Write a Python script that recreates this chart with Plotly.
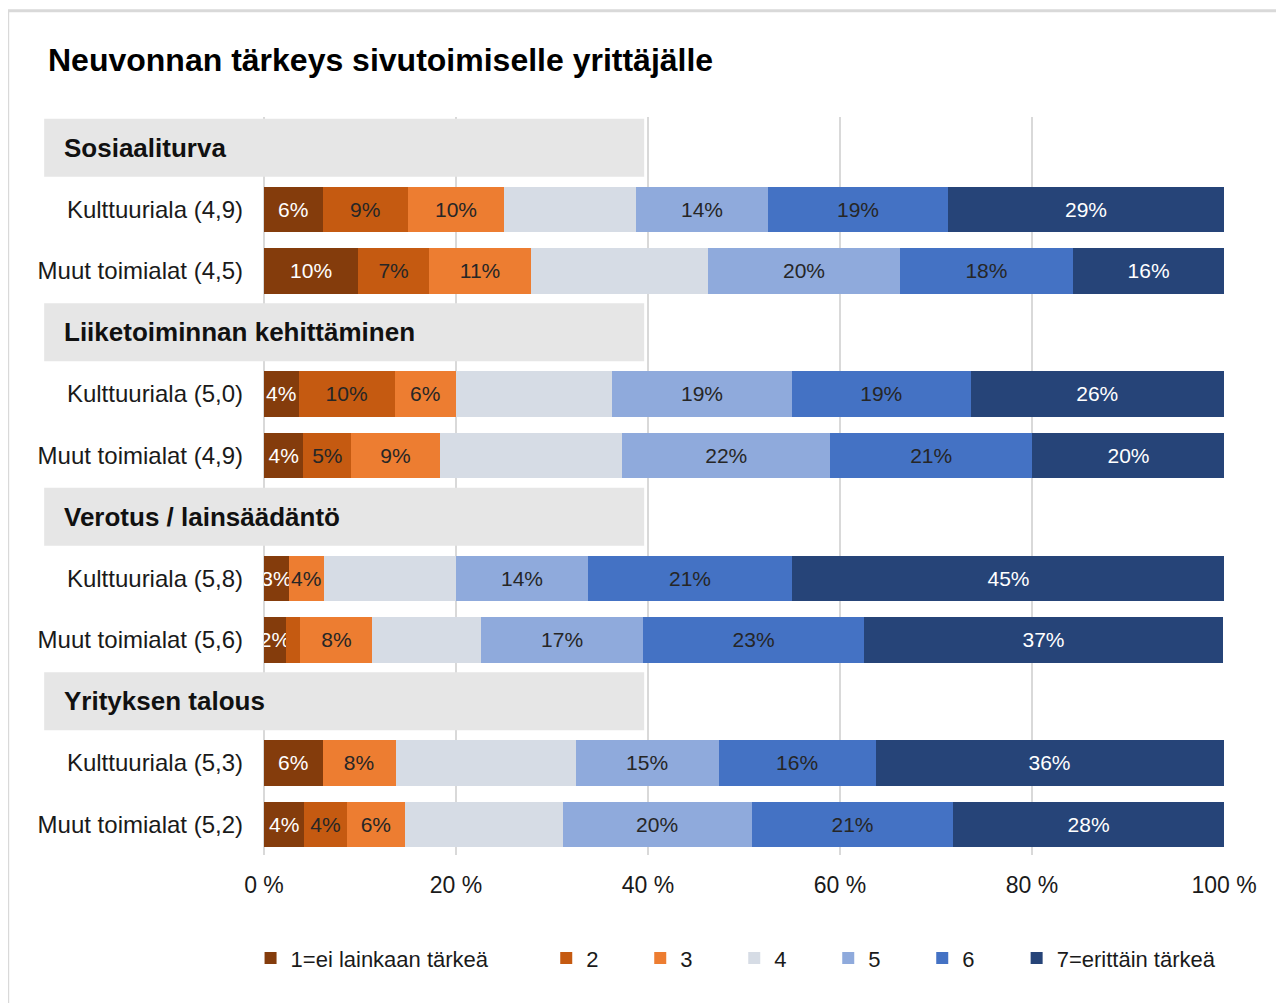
import plotly.graph_objects as go

# rivit ylhäältä alas: otsikkorivi + kaksi palkkia per aihe
aiheet = ['Sosiaaliturva', 'Liiketoiminnan kehittäminen', 'Verotus / lainsäädäntö', 'Yrityksen talous']
rivit = ['Kulttuuriala (4,9)', 'Muut toimialat (4,5)',
         'Kulttuuriala (5,0)', 'Muut toimialat (4,9)',
         'Kulttuuriala (5,8)', 'Muut toimialat (5,6)',
         'Kulttuuriala (5,3)', 'Muut toimialat (5,2)']

luokat = ['1=ei lainkaan tärkeä', '2', '3', '4', '5', '6', '7=erittäin tärkeä']

# osuudet (%) per luokka, rivien järjestyksessä
v1 = [6.1, 9.8, 3.6, 4.1, 2.6, 2.3, 6.1, 4.2]
v2 = [8.9, 7.4, 10.0, 5.0, 0.0, 1.5, 0.0, 4.4]
v3 = [10.0, 10.6, 6.4, 9.2, 3.6, 7.5, 7.6, 6.1]
v4 = [13.75, 18.5, 16.25, 19.0, 13.85, 11.35, 18.75, 16.4]
v5 = [13.75, 19.9, 18.75, 21.7, 13.65, 16.8, 14.9, 19.7]
v6 = [18.75, 18.1, 18.6, 21.0, 21.35, 23.1, 16.35, 21.0]
v7 = [28.75, 15.7, 26.4, 20.1, 45.0, 37.3, 36.25, 28.2]
arvot = [v1, v2, v3, v4, v5, v6, v7]

varit = ['#843c0c', '#c55a11', '#ed7d31', '#d6dce5', '#8faadc', '#4472c4', '#264478']
tekstivarit = ['white', '#262626', '#262626', '#262626', '#262626', '#262626', 'white']

# y-paikat: otsikot 0,3,6,9 ja palkit niiden välissä
otsikko_y = [0, 3, 6, 9]
palkki_y = [1, 2, 4, 5, 7, 8, 10, 11]

# selitteet: eka ja vika omiin laatikoihinsa, keskimmäiset tasavälein
selite = ['legend'] + ['legend2'] * 5 + ['legend3']

fig = go.Figure()
for i, (nimi, vals) in enumerate(zip(luokat, arvot)):
    teksti = ['' if (i == 3 or v < 2) else f'{v:.0f}%' for v in vals]
    fig.add_trace(go.Bar(
        y=palkki_y, x=vals, name=nimi, orientation='h',
        marker=dict(color=varit[i], line=dict(width=0)),
        width=0.74,
        text=teksti, textposition='inside', insidetextanchor='middle', textangle=0,
        textfont=dict(size=21, color=tekstivarit[i]),
        legend=selite[i],
        hoverinfo='skip',
    ))

# harmaat otsikkopalkit
for y0, teksti in zip(otsikko_y, aiheet):
    fig.add_shape(type='rect', xref='paper', yref='y',
                  x0=-0.229, x1=0.396, y0=y0 - 0.47, y1=y0 + 0.47,
                  fillcolor='#e6e6e6', line=dict(width=0), layer='above')
    fig.add_annotation(xref='paper', yref='y', x=-0.21, y=y0, text='<b>' + teksti + '</b>',
                       showarrow=False, xanchor='left', yanchor='middle',
                       font=dict(size=26, color='#111111'))

# kehys vasemmalla ja ylhäällä
fig.add_shape(type='line', xref='paper', yref='paper', x0=-0.267, x1=1.08, y0=1.144, y1=1.144,
              line=dict(color='#d9d9d9', width=3))
fig.add_shape(type='line', xref='paper', yref='paper', x0=-0.267, x1=-0.267, y0=1.144, y1=-0.22,
              line=dict(color='#d9d9d9', width=3))

leg = dict(orientation='h', xanchor='left', y=-0.14, yanchor='middle',
           font=dict(size=22, color='#1a1a1a'), itemwidth=30, traceorder='normal')

fig.update_layout(
    barmode='stack',
    width=1284, height=1003,
    margin=dict(l=256, r=68, t=109, b=156),
    paper_bgcolor='white', plot_bgcolor='white',
    font=dict(family='Liberation Sans, Arial, sans-serif', size=24, color='#1a1a1a'),
    title=dict(text='<b>Neuvonnan tärkeys sivutoimiselle yrittäjälle</b>',
               x=40 / 1284, xanchor='left', y=1 - 52 / 1003, yanchor='middle',
               font=dict(size=32, color='#000000')),
    uniformtext=dict(minsize=21, mode='show'),
    showlegend=True,
    legend=dict(leg, x=-0.014),
    legend2=dict(leg, x=0.294, entrywidth=49),
    legend3=dict(leg, x=0.784),
)

fig.update_xaxes(range=[0, 100], dtick=20, ticksuffix=' %', showgrid=True,
                 gridcolor='#d9d9d9', gridwidth=2, zeroline=True, zerolinecolor='#d9d9d9',
                 zerolinewidth=2, ticks='', ticklabelstandoff=14, fixedrange=True,
                 tickfont=dict(size=23))
fig.update_yaxes(range=[11.5, -0.5], tickvals=palkki_y, ticktext=rivit, showgrid=False,
                 zeroline=False, ticks='', ticklabelstandoff=20)

fig.write_html('out.html')
